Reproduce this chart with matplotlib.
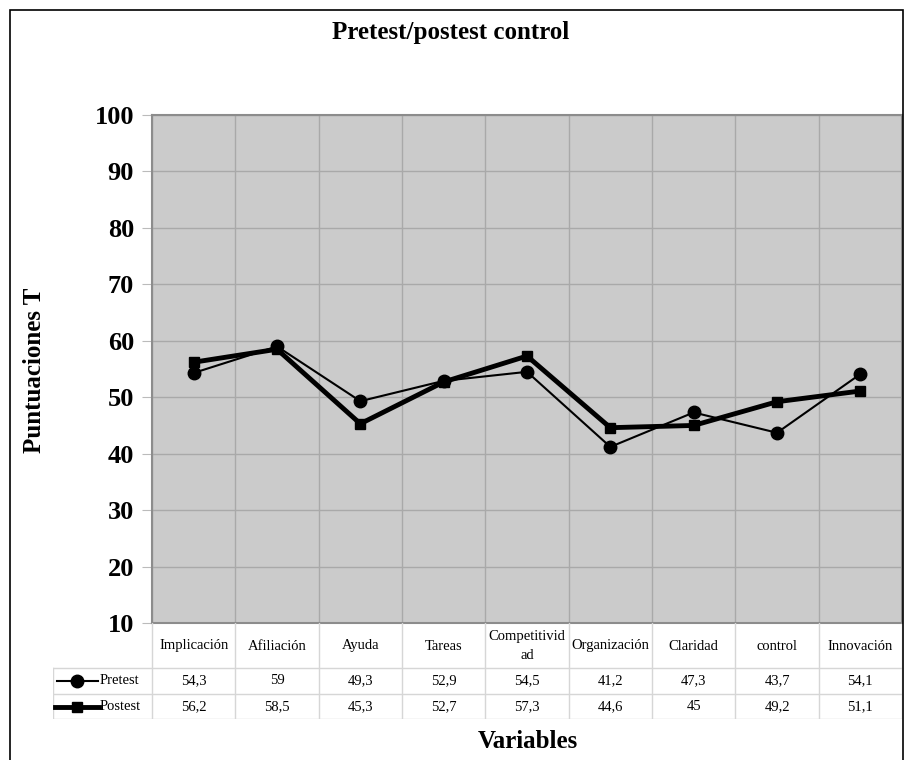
import matplotlib.pyplot as plt
from matplotlib.patches import Rectangle

categories = ['Implicación', 'Afiliación', 'Ayuda', 'Tareas', 'Competitivid\nad',
              'Organización', 'Claridad', 'control', 'Innovación']
pretest = [54.3, 59, 49.3, 52.9, 54.5, 41.2, 47.3, 43.7, 54.1]
postest = [56.2, 58.5, 45.3, 52.7, 57.3, 44.6, 45, 49.2, 51.1]
pretest_labels = ['54,3', '59', '49,3', '52,9', '54,5', '41,2', '47,3', '43,7', '54,1']
postest_labels = ['56,2', '58,5', '45,3', '52,7', '57,3', '44,6', '45', '49,2', '51,1']
yticks = [10, 20, 30, 40, 50, 60, 70, 80, 90, 100]

plt.rcParams['font.family'] = ['Liberation Serif', 'DejaVu Serif']

W, H = 905, 760
fig = plt.figure(figsize=(W / 100, H / 100), dpi=100)


def box(x0, y0, x1, y1):
    # pixel box (top-left origin) -> figure fraction rect
    return [x0 / W, 1 - y1 / H, (x1 - x0) / W, (y1 - y0) / H]


# outer frame
fig.patches.append(Rectangle((10 / W, -0.05), (903 - 10) / W, 1 - 10 / H + 0.05,
                             transform=fig.transFigure, fill=False,
                             edgecolor='black', linewidth=1.2))

n = len(categories)
x = list(range(n))

ax = fig.add_axes(box(152, 115, 902, 623))
ax.set_facecolor('#cbcbcb')
ax.set_xlim(-0.5, n - 0.5)
ax.set_ylim(10, 100)
ax.set_yticks(yticks)
ax.set_yticklabels([str(v) for v in yticks], fontsize=19, fontweight='bold')
ax.set_xticks([])
for xb in range(n + 1):
    ax.axvline(xb - 0.5, color='#a9a9a9', linewidth=1, zorder=1)
for yv in yticks:
    ax.axhline(yv, color='#a9a9a9', linewidth=1, zorder=1)
ax.tick_params(axis='y', length=7, color='#bbbbbb', pad=6)
for side in ['top', 'right', 'bottom', 'left']:
    ax.spines[side].set_color('#8c8c8c')
    ax.spines[side].set_linewidth(1.5)

ax.plot(x, pretest, color='black', linewidth=1.5, marker='o', markersize=9, zorder=3)
ax.plot(x, postest, color='black', linewidth=3.5, marker='s', markersize=7.5, zorder=4)

# data table below the plot
tab = fig.add_axes(box(53, 623, 902, 719))
left = -0.5 - (152 - 53) / 83.33
tab.set_xlim(left, n - 0.5)
tab.set_ylim(96, 0)
tab.axis('off')

grid_c = '#d6d6d6'
for xb in range(n + 1):
    tab.plot([xb - 0.5, xb - 0.5], [0, 96], color=grid_c, linewidth=1)
for yb in [45, 71, 96]:
    tab.plot([left, n - 0.5], [yb, yb], color=grid_c, linewidth=1)
tab.plot([left, left], [45, 96], color=grid_c, linewidth=1)

for i, lab in enumerate(categories):
    tab.text(i, 23, lab, ha='center', va='center', fontsize=10.5, linespacing=1.6)
    tab.text(i, 58, pretest_labels[i], ha='center', va='center', fontsize=10.5)
    tab.text(i, 83.5, postest_labels[i], ha='center', va='center', fontsize=10.5)


def px(p):
    return -0.5 + (p - 152) / 83.33


tab.plot([px(57), px(98)], [58, 58], color='black', linewidth=1.5)
tab.plot([px(77)], [58], color='black', marker='o', markersize=9)
tab.plot([px(55), px(99)], [83.5, 83.5], color='black', linewidth=3.5)
tab.plot([px(77)], [83.5], color='black', marker='s', markersize=7.5)
tab.text(px(100), 58, 'Pretest', ha='left', va='center', fontsize=10.5)
tab.text(px(100), 83.5, 'Postest', ha='left', va='center', fontsize=10.5)

fig.text(451 / W, 1 - 32 / H, 'Pretest/postest control', ha='center', va='center',
         fontsize=18, fontweight='bold')
fig.text(35 / W, 1 - 370 / H, 'Puntuaciones T', ha='center', va='center',
         rotation=90, fontsize=18, fontweight='bold')
fig.text(528 / W, 1 - 742 / H, 'Variables', ha='center', va='center',
         fontsize=18, fontweight='bold')

fig.savefig('out.png', dpi=100)
